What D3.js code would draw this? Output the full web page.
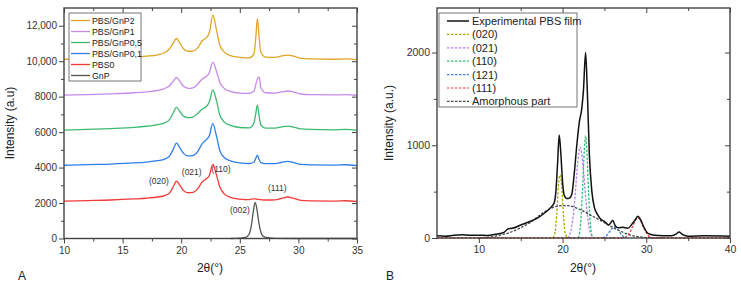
<!DOCTYPE html>
<html>
<head>
<meta charset="utf-8">
<script src="https://cdn.jsdelivr.net/npm/d3@7"></script>
<style>
  body { margin: 0; background: #fff; }
  svg { display: block; font-family: "Liberation Sans", Arial, sans-serif; }
</style>
</head>
<body>
<svg id="chart" width="741" height="287"></svg>
<script>
// ---------- panel A data (2theta grid shared by the PBS curves) ----------
let thetaA = [10, 12, 14, 16, 17, 18, 18.6, 19.0, 19.3, 19.6, 19.9, 20.2, 20.6, 21.0, 21.4, 21.8, 22.1, 22.4, 22.7, 23.0, 23.3, 23.7, 24.2, 25, 25.8, 26.2, 26.35, 26.5, 26.65, 26.8, 27.2, 28, 28.6, 29.1, 29.6, 30.2, 31, 33, 34, 35];
let pbs0   = [2110, 2140, 2170, 2230, 2270, 2340, 2420, 2560, 2900, 3230, 2980, 2700, 2580, 2600, 2800, 3200, 3350, 3550, 4180, 3600, 2900, 2500, 2320, 2220, 2190, 2240, 2230, 2210, 2200, 2190, 2170, 2180, 2270, 2340, 2260, 2150, 2120, 2110, 2130, 2090];
let gnp01  = [4130, 4170, 4200, 4260, 4310, 4390, 4480, 4650, 5000, 5380, 5100, 4800, 4660, 4680, 4900, 5350, 5550, 5800, 6480, 5800, 4950, 4550, 4380, 4260, 4230, 4300, 4500, 4700, 4450, 4280, 4220, 4220, 4300, 4350, 4280, 4180, 4150, 4140, 4160, 4110];
let gnp05  = [6110, 6150, 6200, 6270, 6330, 6420, 6520, 6700, 7050, 7390, 7150, 6900, 6820, 6850, 7050, 7300, 7420, 7700, 8380, 7800, 6950, 6550, 6380, 6260, 6240, 6500, 7000, 7520, 6900, 6400, 6230, 6220, 6300, 6340, 6280, 6180, 6150, 6130, 6150, 6100];
let gnp1   = [8090, 8120, 8160, 8220, 8270, 8350, 8460, 8620, 8850, 9080, 8850, 8580, 8470, 8500, 8700, 9000, 9120, 9350, 9950, 9450, 8800, 8450, 8300, 8200, 8180, 8300, 8650, 9000, 9120, 8500, 8220, 8200, 8270, 8320, 8260, 8150, 8110, 8100, 8110, 8080];
let gnp2   = [10110, 10130, 10170, 10230, 10280, 10360, 10480, 10700, 11000, 11280, 11000, 10700, 10560, 10570, 10750, 11150, 11300, 11600, 12600, 11800, 10900, 10500, 10320, 10220, 10190, 10400, 11200, 12400, 11300, 10500, 10230, 10220, 10300, 10340, 10280, 10160, 10130, 10110, 10130, 10090];
let thetaGnP = [24.2, 25, 25.5, 25.8, 26.0, 26.15, 26.3, 26.45, 26.6, 26.8, 27.0, 27.5, 28, 30, 35];
let gnp      = [0, 20, 60, 250, 800, 1500, 2030, 1700, 1000, 350, 120, 30, 10, 0, 0];

let seriesA = ["PBS/GnP2", "PBS/GnP1", "PBS/GnP0,5", "PBS/GnP0,1", "PBS0", "GnP"];
let colorsA = ["#e0a526", "#c88ae8", "#3dba6f", "#2f7fe8", "#f23b3b", "#555555"];
let peakLabelsA = ["(020)", "(021)", "(110)", "(111)", "(002)"];
let peakPosA = [[18.1, 3050], [20.9, 3600], [23.4, 3760], [28.2, 2700], [25.0, 1450]];
let xTicksA = [10, 15, 20, 25, 30, 35];
let yTicksA = [0, 2000, 4000, 6000, 8000, 10000, 12000];

// ---------- panel B data ----------
let thetaB = [5, 6, 7, 8, 9, 10, 11, 12, 13, 13.5, 14, 15, 16, 17, 18, 18.6, 19.0, 19.2, 19.4, 19.6, 19.8, 20.0, 20.2, 20.5, 20.8, 21.1, 21.4, 21.7, 22.0, 22.3, 22.5, 22.75, 22.95, 23.2, 23.5, 23.8, 24.2, 24.6, 25.0, 25.5, 25.8, 26.0, 26.3, 26.7, 27.2, 27.8, 28.3, 28.7, 29.0, 29.3, 29.7, 30.2, 31, 32, 33, 33.6, 33.9, 34.3, 35, 37, 40];
let expPBS = [25, 20, 30, 35, 30, 30, 28, 40, 60, 100, 105, 140, 175, 215, 280, 330, 380, 500, 800, 1110, 900, 600, 460, 425, 430, 470, 700, 1000, 1250, 1400, 1600, 2000, 1600, 900, 500, 330, 250, 200, 180, 140, 170, 190, 130, 110, 115, 105, 150, 200, 235, 200, 120, 50, 30, 25, 25, 45, 65, 40, 20, 25, 20];
let theta020 = [18.8, 19.1, 19.3, 19.5, 19.7, 19.9, 20.1, 20.3, 20.6];
let fit020   = [0, 60, 250, 560, 680, 560, 250, 60, 0];
let theta021 = [20.6, 21.0, 21.4, 21.8, 22.1, 22.4, 22.8, 23.2, 23.7];
let fit021   = [0, 80, 350, 800, 980, 820, 400, 100, 0];
let theta110 = [21.9, 22.15, 22.4, 22.6, 22.75, 22.9, 23.1, 23.35, 23.6];
let fit110   = [0, 150, 550, 950, 1100, 950, 500, 120, 0];
let theta121 = [24.8, 25.3, 25.8, 26.2, 26.6, 27.1, 27.6];
let fit121   = [0, 30, 90, 120, 90, 30, 0];
let theta111 = [5, 27.3, 27.8, 28.3, 28.7, 29.0, 29.3, 29.7, 30.2, 30.7, 40];
let fit111   = [0, 0, 30, 110, 190, 215, 190, 110, 30, 0, 0];
let thetaAm  = [10, 12, 14, 16, 18, 19.5, 20.5, 22, 23.5, 25, 26, 27, 28, 29, 30, 32];
let fitAm    = [0, 20, 70, 160, 290, 345, 350, 310, 240, 165, 115, 70, 35, 15, 5, 0];

let seriesB = ["Experimental PBS film", "(020)", "(021)", "(110)", "(121)", "(111)", "Amorphous part"];
let colorsB = ["#111111", "#a8a800", "#b77fe8", "#2fbf71", "#3a7fe6", "#f03a3a", "#444444"];
let xTicksB = [10, 20, 30, 40];
let yTicksB = [0, 1000, 2000];

const svg = d3.select("#chart");
const axisColor = "#444";
const zip = (xs, ys) => xs.map((x, i) => [x, ys[i]]);

function frame(g, x, y, xMajor, xMinor, yMajor, yMinor, yFmt, fs) {
  const [x0, x1] = x.range(), [y0, y1] = y.range();
  // bottom / left: outward ticks with labels
  g.append("g").attr("transform", `translate(0,${y0})`)
    .call(d3.axisBottom(x).tickValues(xMinor).tickSize(3).tickFormat(""));
  g.append("g").attr("transform", `translate(0,${y0})`)
    .call(d3.axisBottom(x).tickValues(xMajor).tickSize(5).tickPadding(3))
    .selectAll("text").style("font-size", fs + "px");
  g.append("g").attr("transform", `translate(${x0},0)`)
    .call(d3.axisLeft(y).tickValues(yMinor).tickSize(3).tickFormat(""));
  g.append("g").attr("transform", `translate(${x0},0)`)
    .call(d3.axisLeft(y).tickValues(yMajor).tickSize(5).tickPadding(2).tickFormat(yFmt))
    .selectAll("text").style("font-size", fs + "px");
  // top / right: inward ticks
  g.append("g").attr("transform", `translate(0,${y1})`)
    .call(d3.axisBottom(x).tickValues(xMajor).tickSize(5).tickFormat(""));
  g.append("g").attr("transform", `translate(0,${y1})`)
    .call(d3.axisBottom(x).tickValues(xMinor).tickSize(3).tickFormat(""));
  g.append("g").attr("transform", `translate(${x1},0)`)
    .call(d3.axisLeft(y).tickValues(yMajor).tickSize(5).tickFormat(""));
  g.append("g").attr("transform", `translate(${x1},0)`)
    .call(d3.axisLeft(y).tickValues(yMinor).tickSize(3).tickFormat(""));
  g.selectAll(".domain").remove();
  g.selectAll(".tick line").attr("stroke", axisColor).attr("stroke-width", 1);
  g.selectAll(".tick text").attr("fill", "#333");
  g.append("rect").attr("x", x0).attr("y", y1).attr("width", x1 - x0).attr("height", y0 - y1)
    .attr("fill", "none").attr("stroke", axisColor).attr("stroke-width", 1.4);
}

// ================= Panel A =================
const xA = d3.scaleLinear().domain([10, 35]).range([64, 357]);
const yA = d3.scaleLinear().domain([0, 13000]).range([238.5, 8]);
const gA = svg.append("g");
const lineA = d3.line().x(d => xA(d[0])).y(d => yA(d[1])).curve(d3.curveMonotoneX);

const dataA = [zip(thetaA, gnp2), zip(thetaA, gnp1), zip(thetaA, gnp05), zip(thetaA, gnp01), zip(thetaA, pbs0), zip(thetaGnP, gnp)];
dataA.forEach((d, i) => {
  gA.append("path").attr("d", lineA(d)).attr("fill", "none")
    .attr("stroke", colorsA[i]).attr("stroke-width", 1.3);
});

peakLabelsA.forEach((t, i) => {
  gA.append("text").attr("x", xA(peakPosA[i][0])).attr("y", yA(peakPosA[i][1]))
    .attr("text-anchor", "middle").attr("font-size", 8.5).attr("fill", "#333").text(t);
});

frame(gA, xA, yA, xTicksA, d3.range(12.5, 35, 5), yTicksA, d3.range(1000, 13000, 2000),
  d => d >= 10000 ? d3.format(",")(d) : d, 10);

// legend A
const legA = gA.append("g");
legA.append("rect").attr("x", 69).attr("y", 13).attr("width", 72).attr("height", 68)
  .attr("fill", "#fff").attr("stroke", "#777").attr("stroke-width", 1);
seriesA.forEach((s, i) => {
  const yy = 20.5 + i * 11;
  legA.append("line").attr("x1", 71).attr("x2", 90).attr("y1", yy).attr("y2", yy)
    .attr("stroke", colorsA[i]).attr("stroke-width", 1.3);
  legA.append("text").attr("x", 92).attr("y", yy + 3.2).attr("font-size", 8.8)
    .attr("fill", "#222").text(s);
});

gA.append("text").attr("transform", "translate(14,123) rotate(-90)").attr("text-anchor", "middle")
  .attr("font-size", 12).attr("fill", "#222").text("Intensity (a.u)");
gA.append("text").attr("x", 210).attr("y", 272).attr("text-anchor", "middle")
  .attr("font-size", 12).attr("fill", "#222").text("2θ(°)");
gA.append("text").attr("x", 18).attr("y", 280).attr("font-size", 12).attr("fill", "#222").text("A");

// ================= Panel B =================
const xB = d3.scaleLinear().domain([5, 40]).range([437, 730]);
const yB = d3.scaleLinear().domain([0, 2480]).range([238, 8]);
const gB = svg.append("g");
const lineB = d3.line().x(d => xB(d[0])).y(d => yB(d[1])).curve(d3.curveMonotoneX);

const fitsB = [zip(theta020, fit020), zip(theta021, fit021), zip(theta110, fit110), zip(theta121, fit121), zip(thetaAm, fitAm), zip(theta111, fit111)];
const fitColors = [colorsB[1], colorsB[2], colorsB[3], colorsB[4], colorsB[6], colorsB[5]];
fitsB.forEach((d, i) => {
  gB.append("path").attr("d", lineB(d)).attr("fill", "none")
    .attr("stroke", fitColors[i]).attr("stroke-width", 1.3).attr("stroke-dasharray", "2.5,1.5");
});
gB.append("path").attr("d", lineB(zip(thetaB, expPBS))).attr("fill", "none")
  .attr("stroke", colorsB[0]).attr("stroke-width", 1.5);

frame(gB, xB, yB, xTicksB, [15, 25, 35], yTicksB, [500, 1500], d => d, 10.5);

// legend B
const legB = gB.append("g");
legB.append("rect").attr("x", 439).attr("y", 13).attr("width", 138).attr("height", 94)
  .attr("fill", "#fff").attr("stroke", "#777").attr("stroke-width", 1);
seriesB.forEach((s, i) => {
  const yy = 21 + i * 13.4;
  legB.append("line").attr("x1", 447).attr("x2", 469).attr("y1", yy).attr("y2", yy)
    .attr("stroke", colorsB[i]).attr("stroke-width", i === 0 ? 1.5 : 1.2)
    .attr("stroke-dasharray", i === 0 ? null : "2.5,1.5");
  legB.append("text").attr("x", 472).attr("y", yy + 4).attr("font-size", 11)
    .attr("fill", "#222").text(s);
});

gB.append("text").attr("transform", "translate(393,123) rotate(-90)").attr("text-anchor", "middle")
  .attr("font-size", 12).attr("fill", "#222").text("Intensity (a.u.)");
gB.append("text").attr("x", 583).attr("y", 272).attr("text-anchor", "middle")
  .attr("font-size", 12).attr("fill", "#222").text("2θ(°)");
gB.append("text").attr("x", 386).attr("y", 280).attr("font-size", 12).attr("fill", "#222").text("B");
</script>
</body>
</html>
